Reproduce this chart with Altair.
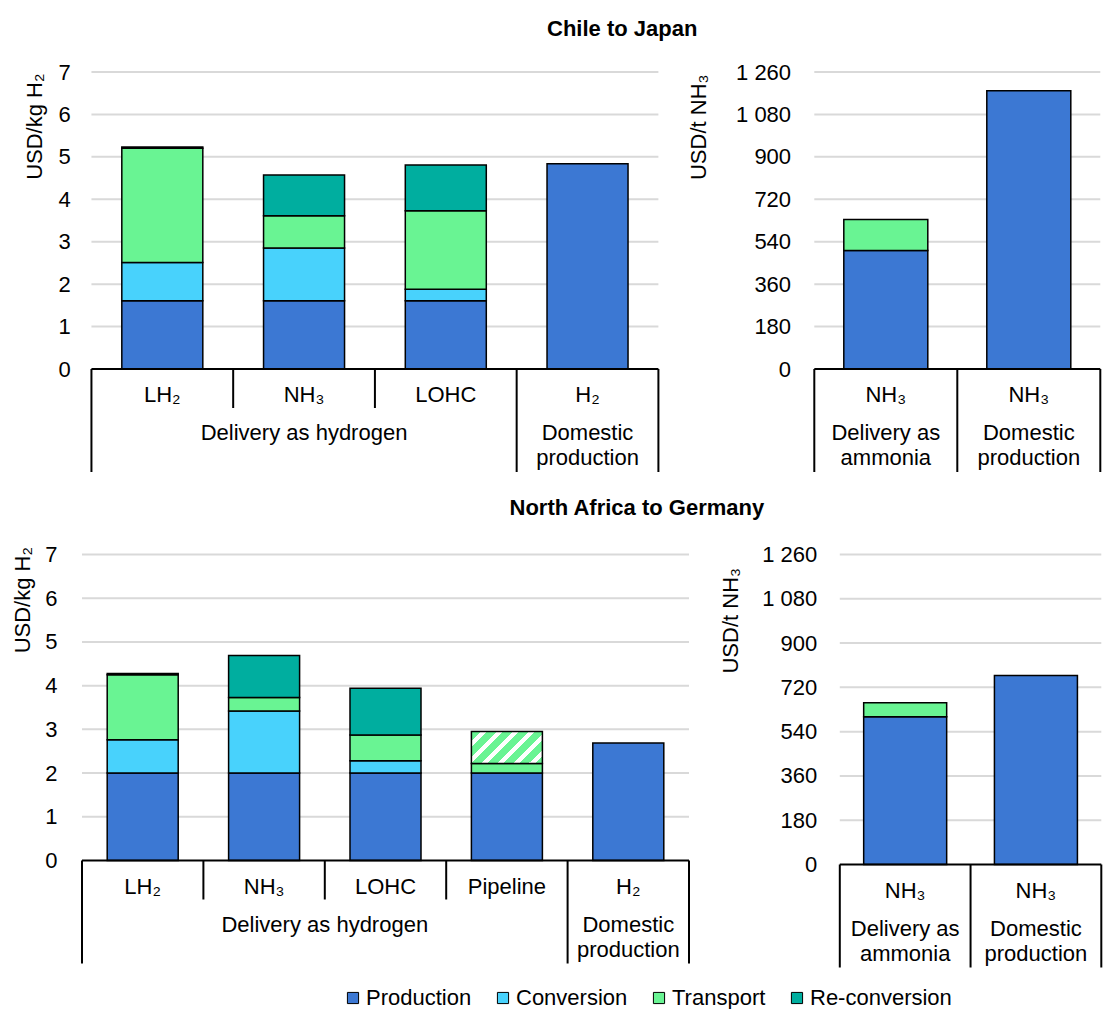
import altair as alt
import pandas as pd

FONT = "Liberation Sans"
COMPONENTS = ["Production", "Conversion", "Transport", "Re-conversion"]
COMPONENT_COLORS = ["#3C78D3", "#48D2FC", "#69F493", "#00AE9F"]

# ---------------- data ----------------
# Chile to Japan, delivery as hydrogen (USD/kg H2)
cj_h2_categories = ["LH₂", "NH₃", "LOHC", "H₂"]
cj_h2_production = [1.61, 1.61, 1.61, 4.84]
cj_h2_conversion = [0.90, 1.24, 0.27, 0.0]
cj_h2_transport = [2.69, 0.76, 1.85, 0.0]
cj_h2_reconversion = [0.03, 0.96, 1.08, 0.0]
cj_h2_transport_hatched = [0.0, 0.0, 0.0, 0.0]
cj_h2_groups = ["Delivery as hydrogen", "Domestic\nproduction"]
cj_h2_group_sizes = [3, 1]

# Chile to Japan, ammonia (USD/t NH3)
cj_nh3_categories = ["NH₃", "NH₃"]
cj_nh3_production = [503, 1180]
cj_nh3_conversion = [0, 0]
cj_nh3_transport = [131, 0]
cj_nh3_reconversion = [0, 0]
cj_nh3_transport_hatched = [0, 0]
cj_nh3_groups = ["Delivery as\nammonia", "Domestic\nproduction"]
cj_nh3_group_sizes = [1, 1]

# North Africa to Germany, delivery as hydrogen (USD/kg H2)
na_h2_categories = ["LH₂", "NH₃", "LOHC", "Pipeline", "H₂"]
na_h2_production = [2.00, 2.00, 2.00, 2.00, 2.69]
na_h2_conversion = [0.76, 1.42, 0.28, 0.0, 0.0]
na_h2_transport = [1.49, 0.31, 0.59, 0.22, 0.0]
na_h2_reconversion = [0.03, 0.96, 1.07, 0.0, 0.0]
na_h2_transport_hatched = [0.0, 0.0, 0.0, 0.73, 0.0]
na_h2_groups = ["Delivery as hydrogen", "Domestic\nproduction"]
na_h2_group_sizes = [4, 1]

# North Africa to Germany, ammonia (USD/t NH3)
na_nh3_categories = ["NH₃", "NH₃"]
na_nh3_production = [601, 768]
na_nh3_conversion = [0, 0]
na_nh3_transport = [56, 0]
na_nh3_reconversion = [0, 0]
na_nh3_transport_hatched = [0, 0]
na_nh3_groups = ["Delivery as\nammonia", "Domestic\nproduction"]
na_nh3_group_sizes = [1, 1]

h2_ticks = [0, 1, 2, 3, 4, 5, 6, 7]
nh3_ticks = [0, 180, 360, 540, 720, 900, 1080, 1260]

LEGEND = alt.Legend(
    orient="none", legendX=265, legendY=915, direction="horizontal", title=None,
    symbolType="square", symbolSize=125, symbolStrokeColor="black", symbolStrokeWidth=1,
    symbolOpacity=1, labelFontSize=22, labelColor="black", labelFont=FONT,
    columnPadding=20, labelOffset=2, padding=0,
)


def hatch_fill():
    green, white = "#69F493", "#FFFFFF"
    n, wf = 7, 0.38
    stops = []
    for k in range(n):
        a = k / n
        b = (k + 1 - wf) / n
        c = (k + 1) / n
        stops += [
            alt.GradientStop(color=green, offset=a),
            alt.GradientStop(color=green, offset=b),
            alt.GradientStop(color=white, offset=b),
            alt.GradientStop(color=white, offset=c),
        ]
    return alt.LinearGradient(gradient="linear", stops=stops, x1=0, y1=0, x2=1.3, y2=0.6)


def panel(categories, series, hatched, groups, group_sizes, ticks, ytitle,
          width, height, bar_px, label_pad, title_pad, title_y, thousands, x_lead=0.0):
    n = len(categories)
    rows, hrows = [], []
    for i in range(n):
        base = 0.0
        for comp, vals in zip(COMPONENTS, series):
            v = vals[i]
            if v > 0:
                rows.append({"center": i + 0.5, "component": comp,
                             "start": base, "end": base + v})
                base += v
        if hatched[i] > 0:
            hrows.append({"center": i + 0.5, "start": base, "end": base + hatched[i]})
    bars_df = pd.DataFrame(rows)
    hatch_df = pd.DataFrame(hrows) if hrows else pd.DataFrame(
        {"center": [], "start": [], "end": []})
    cat_df = pd.DataFrame({"center": [i + 0.5 for i in range(n)], "label": categories})

    bounds = [0]
    for s in group_sizes:
        bounds.append(bounds[-1] + s)
    gcenters = [(bounds[k] + bounds[k + 1]) / 2 for k in range(len(groups))]
    grp_df = pd.DataFrame({"gcenter": gcenters, "glabel": groups})
    sep_df = pd.DataFrame({
        "pos": list(range(n + 1)),
        "kind": ["long" if p in bounds else "short" for p in range(n + 1)],
    })
    grid_df = pd.DataFrame({"tick": ticks[1:], "x0": 0, "x1": n})
    base_df = pd.DataFrame({"zero": [0], "x0": [0], "x1": [n]})

    xscale = alt.Scale(domain=[-x_lead, n], nice=False, zero=False)

    def X(field):
        return alt.X(field, type="quantitative", scale=xscale, axis=None)

    if thousands:
        lexpr = "replace(format(datum.value, ','), ',', ' ')"
    else:
        lexpr = "format(datum.value, 'd')"
    yaxis = alt.Axis(
        values=ticks, grid=False, domain=False,
        ticks=False, tickSize=0, labelFontSize=22, labelColor="black", labelFont=FONT,
        labelPadding=label_pad, labelExpr=lexpr, title=ytitle, titleFontSize=22,
        titleFontWeight="normal", titleColor="black", titleFont=FONT,
        titlePadding=title_pad, titleAnchor="end", titleY=title_y,
    )
    yscale = alt.Scale(domain=[ticks[0], ticks[-1]], nice=False, zero=True)

    def Y(field):
        return alt.Y(field, type="quantitative", scale=yscale, axis=yaxis, title=ytitle)

    grid = alt.Chart(grid_df).mark_rule(color="#D9D9D9", strokeWidth=2).encode(
        x=X("x0"), x2="x1", y=Y("tick"))
    bars = alt.Chart(bars_df).mark_bar(stroke="black", strokeWidth=1.5, size=bar_px).encode(
        x=X("center"),
        y=Y("end"),
        y2="start:Q",
        color=alt.Color("component:N",
                        scale=alt.Scale(domain=COMPONENTS, range=COMPONENT_COLORS),
                        legend=LEGEND),
    )
    layers = [grid, bars]
    if len(hatch_df):
        hat = alt.Chart(hatch_df).mark_bar(
            fill=hatch_fill(), stroke="black", strokeWidth=1.5, size=bar_px
        ).encode(x=X("center"), y=Y("end"), y2="start:Q")
        layers.append(hat)

    baseline = alt.Chart(base_df).mark_rule(color="black", strokeWidth=2).encode(
        x=X("x0"), x2="x1", y=Y("zero"))
    short_rules = alt.Chart(sep_df).transform_filter("datum.kind == 'short'").mark_rule(
        color="black", strokeWidth=2).encode(
        x=X("pos"), y=alt.value(height), y2=alt.value(height + 39))
    long_rules = alt.Chart(sep_df).transform_filter("datum.kind == 'long'").mark_rule(
        color="black", strokeWidth=2).encode(
        x=X("pos"), y=alt.value(height), y2=alt.value(height + 103))
    sub_text = alt.Chart(cat_df).mark_text(
        font=FONT, fontSize=22, color="black", baseline="alphabetic", align="center"
    ).encode(x=X("center"), y=alt.value(height + 33), text="label:N")
    grp_text = alt.Chart(grp_df).mark_text(
        font=FONT, fontSize=22, color="black", baseline="alphabetic", align="center",
        lineBreak="\n", lineHeight=25,
    ).encode(x=X("gcenter"), y=alt.value(height + 71), text="glabel:N")
    layers += [baseline, short_rules, long_rules, sub_text, grp_text]
    return alt.layer(*layers).properties(width=width, height=height)


# the top-left panel leads its category axis by a few pixels so it sits right of the lower one
tl = panel(cj_h2_categories,
           [cj_h2_production, cj_h2_conversion, cj_h2_transport, cj_h2_reconversion],
           cj_h2_transport_hatched, cj_h2_groups, cj_h2_group_sizes, h2_ticks,
           "USD/kg H₂", 586.4, 297, 81, 6.7, 12, 1, False, x_lead=0.0666)
tr = panel(cj_nh3_categories,
           [cj_nh3_production, cj_nh3_conversion, cj_nh3_transport, cj_nh3_reconversion],
           cj_nh3_transport_hatched, cj_nh3_groups, cj_nh3_group_sizes, nh3_ticks,
           "USD/t NH₃", 296, 297, 84, 18.7, 25, 2, True)
bl = panel(na_h2_categories,
           [na_h2_production, na_h2_conversion, na_h2_transport, na_h2_reconversion],
           na_h2_transport_hatched, na_h2_groups, na_h2_group_sizes, h2_ticks,
           "USD/kg H₂", 617, 306, 71, 20, 10.4, -8, False)
br = panel(na_nh3_categories,
           [na_nh3_production, na_nh3_conversion, na_nh3_transport, na_nh3_reconversion],
           na_nh3_transport_hatched, na_nh3_groups, na_nh3_group_sizes, nh3_ticks,
           "USD/t NH₃", 271.5, 310, 83, 18, 18.8, 13, True)

top_row = alt.hconcat(
    tl, tr, spacing=23.3,
    title=alt.TitleParams("Chile to Japan", fontSize=22, fontWeight="bold", font=FONT,
                          color="black", anchor="middle", frame="bounds", dx=58, offset=20),
)
bottom_row = alt.hconcat(
    bl, br, spacing=25.8,
    title=alt.TitleParams("North Africa to Germany", fontSize=22, fontWeight="bold",
                          font=FONT, color="black", anchor="middle", frame="bounds",
                          dx=78, offset=23.5),
)

chart = alt.vconcat(top_row, bottom_row, spacing=23.5).properties(
    padding={"left": 3, "top": 10, "right": 0, "bottom": 0}
).configure(font=FONT).configure_view(stroke=None)

chart.save("out.html", embed_options={"renderer": "svg", "actions": False})
